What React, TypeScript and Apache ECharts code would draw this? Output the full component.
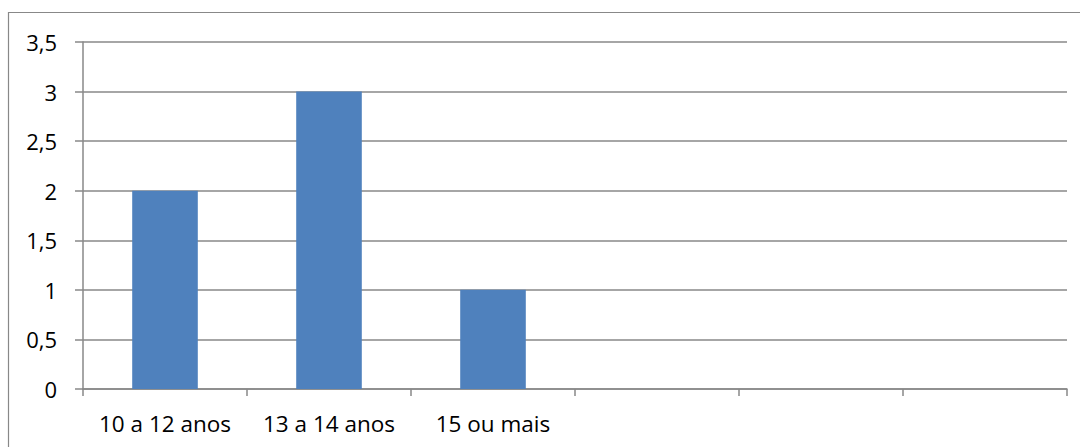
import React, { useEffect, useRef } from "react";
import * as echarts from "echarts";

const categories = ["10 a 12 anos", "13 a 14 anos", "15 ou mais", "", "", ""];
const values = [2, 3, 1, null, null, null];
const yMin = 0;
const yMax = 3.5;
const yStep = 0.5;

export default function App() {
  const ref = useRef<HTMLDivElement>(null);
  useEffect(() => {
    const chart = echarts.init(ref.current!, null, { renderer: "svg" });
    const font = "'Open Sans', 'Noto Sans', sans-serif";
    chart.setOption({
      animation: false,
      backgroundColor: "#ffffff",
      grid: { left: 83, right: 13, top: 42, bottom: 58, containLabel: false },
      graphic: [
        {
          type: "rect",
          shape: { x: 8.5, y: 12.5, width: 1100, height: 460 },
          style: { fill: "none", stroke: "#888888", lineWidth: 1.2 },
          silent: true,
        },
      ],
      xAxis: {
        type: "category",
        data: categories,
        boundaryGap: true,
        axisLine: { show: true, lineStyle: { color: "#888888", width: 1.5 } },
        axisTick: { show: true, alignWithLabel: false, interval: 0, length: 7, lineStyle: { color: "#888888", width: 1.5 } },
        axisLabel: { interval: 0, margin: 23, color: "#000000", fontSize: 22.5, fontFamily: font },
        splitLine: { show: false },
      },
      yAxis: {
        type: "value",
        min: yMin,
        max: yMax,
        interval: yStep,
        axisLine: { show: true, lineStyle: { color: "#888888", width: 1.5 } },
        axisTick: { show: true, length: 8, lineStyle: { color: "#888888", width: 1.5 } },
        axisLabel: {
          margin: 26,
          color: "#000000",
          fontSize: 22,
          fontFamily: font,
          formatter: (v: number) => String(v).replace(".", ","),
        },
        splitLine: { show: true, lineStyle: { color: "#888888", width: 1.5 } },
      },
      series: [
        {
          type: "bar",
          data: values,
          barWidth: "40%",
          itemStyle: { color: "#4F81BD" },
        },
      ],
    });
    return () => chart.dispose();
  }, []);
  return (
    <div
      ref={ref}
      style={{ position: "absolute", left: 0, top: 0, width: 1080, height: 447 }}
    />
  );
}
